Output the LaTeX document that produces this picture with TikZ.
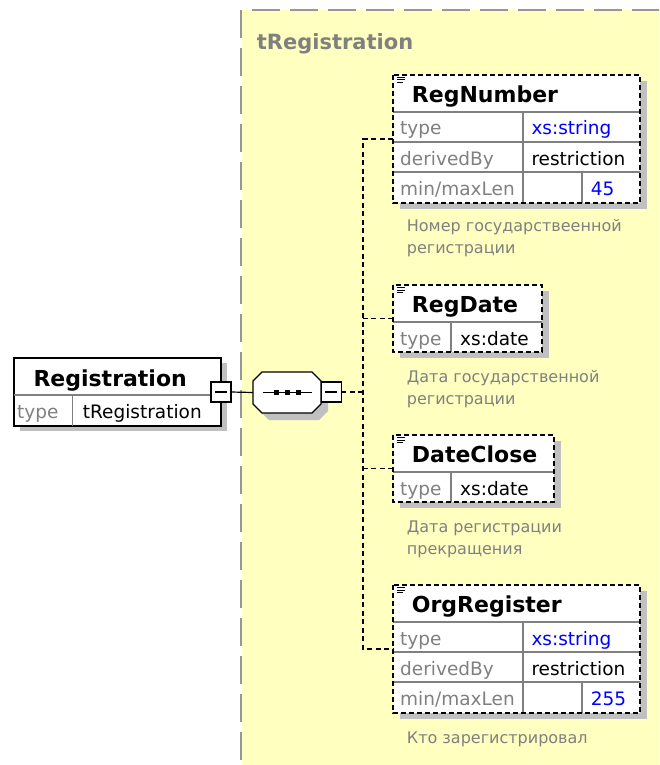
\documentclass[tikz,border=0pt]{standalone}
\usepackage{fontspec}
\setmainfont{DejaVu Sans}
\usetikzlibrary{calc,shadows}
\definecolor{panelyellow}{RGB}{255,255,192}
\definecolor{panelgray}{RGB}{150,150,150}
\definecolor{shadowgray}{RGB}{192,192,192}
\definecolor{linegray}{RGB}{128,128,128}
\definecolor{labelgray}{RGB}{128,128,128}
\definecolor{xsblue}{RGB}{0,0,255}
\begin{document}
\begin{tikzpicture}[x=1pt,y=-1pt,
  elname/.style={anchor=base west, inner sep=0, font=\fontsize{22}{22}\selectfont\bfseries},
  lbl/.style={anchor=base west, inner sep=0, font=\fontsize{18.5}{18.5}\selectfont, text=labelgray},
  val/.style={anchor=base west, inner sep=0, font=\fontsize{18.5}{18.5}\selectfont},
  blueval/.style={val, text=xsblue},
  desc/.style={anchor=base west, inner sep=0, font=\fontsize{16}{16}\selectfont, text=labelgray},
  paneltitle/.style={anchor=base west, inner sep=0, font=\fontsize{21}{21}\selectfont\bfseries, text=labelgray},
  elbox/.style={rectangle, draw=none, fill=white, inner sep=0, outer sep=0, anchor=north west,
    drop shadow={shadow xshift=7pt, shadow yshift=-6pt, fill=shadowgray, opacity=1}},
  regbox/.style={rectangle, draw=black, line width=1.2pt, fill=white, inner sep=0, outer sep=0, anchor=north west,
    drop shadow={shadow xshift=6pt, shadow yshift=-5pt, fill=shadowgray, opacity=1}},
  eldash/.style={draw=black, line width=1.3pt, dash pattern=on 5pt off 3pt},
  innerline/.style={draw=linegray, line width=1.2pt},
  iconline/.style={draw=black, line width=1pt},
  minusbox/.style={rectangle, draw=black, fill=white, line width=1.2pt, minimum size=20pt, inner sep=0, outer sep=0},
  conn/.style={draw=black, line width=1.2pt, dash pattern=on 5pt off 3.5pt},
  solidconn/.style={draw=black, line width=1.2pt},
  paneldash/.style={draw=panelgray, line width=2pt, dash pattern=on 28pt off 10pt},
  seqnode/.style={rectangle, draw=none, minimum width=68pt, minimum height=41pt, inner sep=0, outer sep=0}
]
\useasboundingbox (0,0) rectangle (659,765);
\clip (0,0) rectangle (659,765);
\fill[white] (0,0) rectangle (659,765);

% panel
\fill[panelyellow] (242,10) rectangle (670,780);
\draw[paneldash] (241,10) -- (241,770);
\draw[paneldash] (252,10) -- (670,10);
\node[paneltitle] (ptitle) at (256.7,50) {tRegistration};

% element nodes (fills + shadows)
\node[elbox, minimum width=247pt, minimum height=128pt] (regnum) at (393,75) {};
\node[elbox, minimum width=149pt, minimum height=67pt] (regdate) at (393,285) {};
\node[elbox, minimum width=161pt, minimum height=67pt] (dateclose) at (393,435) {};
\node[elbox, minimum width=247pt, minimum height=128pt] (orgreg) at (393,585) {};

% sequence
\node[seqnode] (seq) at (287,392.5) {};
\filldraw[fill=white, draw=black, line width=1.2pt,
  drop shadow={shadow xshift=7pt, shadow yshift=-7pt, fill=shadowgray, opacity=1}]
  (253,381) -- (262,372) -- (312,372) -- (321,381) -- (321,404) -- (312,413) -- (262,413) -- (253,404) -- cycle;
\draw[solidconn] (262.7,392.5) -- (311.7,392.5);
\fill (273.5,390) rectangle (278.5,395);
\fill (284.5,390) rectangle (289.5,395);
\fill (295.5,390) rectangle (300.5,395);

% Registration
\node[regbox, minimum width=207pt, minimum height=68pt] (reg) at (14,358) {};
\draw[innerline] (14,395) -- (221,395);
\draw[innerline] (72.7,395) -- (72.7,426);
\node[elname] (regT) at (33.3,386) {Registration};
\node[lbl] (regL) at (17,418) {type};
\node[val] (regV) at (82.7,418) {tRegistration};

% connectors
\node[minusbox] (rm) at (221,392) {};
\node[minusbox] (sm) at (331.2,392) {};
\coordinate (trunk) at (363,392);
\draw[solidconn] (rm.east) -- (seq.west);
\draw[conn] (sm.east) -- (trunk);
\draw[conn] (regnum.west) -- (regnum.west -| trunk) -- (orgreg.west -| trunk) -- (orgreg.west);
\draw[conn] (regdate.west) -- (regdate.west -| trunk);
\draw[conn] (dateclose.west) -- (dateclose.west -| trunk);
\draw[solidconn] ([xshift=4pt]rm.west) -- ([xshift=-4pt]rm.east);
\draw[solidconn] ([xshift=4pt]sm.west) -- ([xshift=-4pt]sm.east);

% RegNumber
\draw[innerline] (393,112) -- (640,112);
\draw[innerline] (393,142) -- (640,142);
\draw[innerline] (393,172) -- (640,172);
\draw[innerline] (523,112) -- (523,203);
\draw[innerline] (582,172) -- (582,203);
\draw[eldash] (regnum.north west) rectangle (regnum.south east);
\draw[iconline] (396.5,77.5) -- (405,77.5) (396.5,80) -- (405,80) (396.5,82.5) -- (403,82.5);
\node[elname] (rnT) at (411.7,102.5) {RegNumber};
\node[lbl] (rnL1) at (400,135) {type};
\node[blueval] (rnV1) at (531.3,135) {xs:string};
\node[lbl] (rnL2) at (400,165) {derivedBy};
\node[val] (rnV2) at (531.3,165) {restriction};
\node[lbl] (rnL3) at (400,195) {min/maxLen};
\node[blueval] (rnV3) at (590.7,195) {45};
\node[desc] (rnD1) at (406.7,231) {Номер государствеенной};
\node[desc] (rnD2) at (406.7,253) {регистрации};

% RegDate
\draw[innerline] (393,322) -- (542,322);
\draw[innerline] (451,322) -- (451,352);
\draw[eldash] (regdate.north west) rectangle (regdate.south east);
\draw[iconline] (396.5,287.5) -- (405,287.5) (396.5,290) -- (405,290) (396.5,292.5) -- (403,292.5);
\node[elname] (rdT) at (411.7,312.5) {RegDate};
\node[lbl] (rdL) at (400,345) {type};
\node[val] (rdV) at (460,345) {xs:date};
\node[desc] (rdD1) at (406.7,382.5) {Дата государственной};
\node[desc] (rdD2) at (406.7,404) {регистрации};

% DateClose
\draw[innerline] (393,472) -- (554,472);
\draw[innerline] (451,472) -- (451,502);
\draw[eldash] (dateclose.north west) rectangle (dateclose.south east);
\draw[iconline] (396.5,437.5) -- (405,437.5) (396.5,440) -- (405,440) (396.5,442.5) -- (403,442.5);
\node[elname] (dcT) at (411.7,462.5) {DateClose};
\node[lbl] (dcL) at (400,495) {type};
\node[val] (dcV) at (460,495) {xs:date};
\node[desc] (dcD1) at (406.7,532.5) {Дата регистрации};
\node[desc] (dcD2) at (406.7,554) {прекращения};

% OrgRegister
\draw[innerline] (393,622) -- (640,622);
\draw[innerline] (393,652) -- (640,652);
\draw[innerline] (393,682) -- (640,682);
\draw[innerline] (523,622) -- (523,713);
\draw[innerline] (582,682) -- (582,713);
\draw[eldash] (orgreg.north west) rectangle (orgreg.south east);
\draw[iconline] (396.5,587.5) -- (405,587.5) (396.5,590) -- (405,590) (396.5,592.5) -- (403,592.5);
\node[elname] (orT) at (411.7,612.5) {OrgRegister};
\node[lbl] (orL1) at (400,645) {type};
\node[blueval] (orV1) at (531.3,645) {xs:string};
\node[lbl] (orL2) at (400,675) {derivedBy};
\node[val] (orV2) at (531.3,675) {restriction};
\node[lbl] (orL3) at (400,705) {min/maxLen};
\node[blueval] (orV3) at (590.7,705) {255};
\node[desc] (orD1) at (406.7,743) {Кто зарегистрировал};
\end{tikzpicture}
\end{document}
